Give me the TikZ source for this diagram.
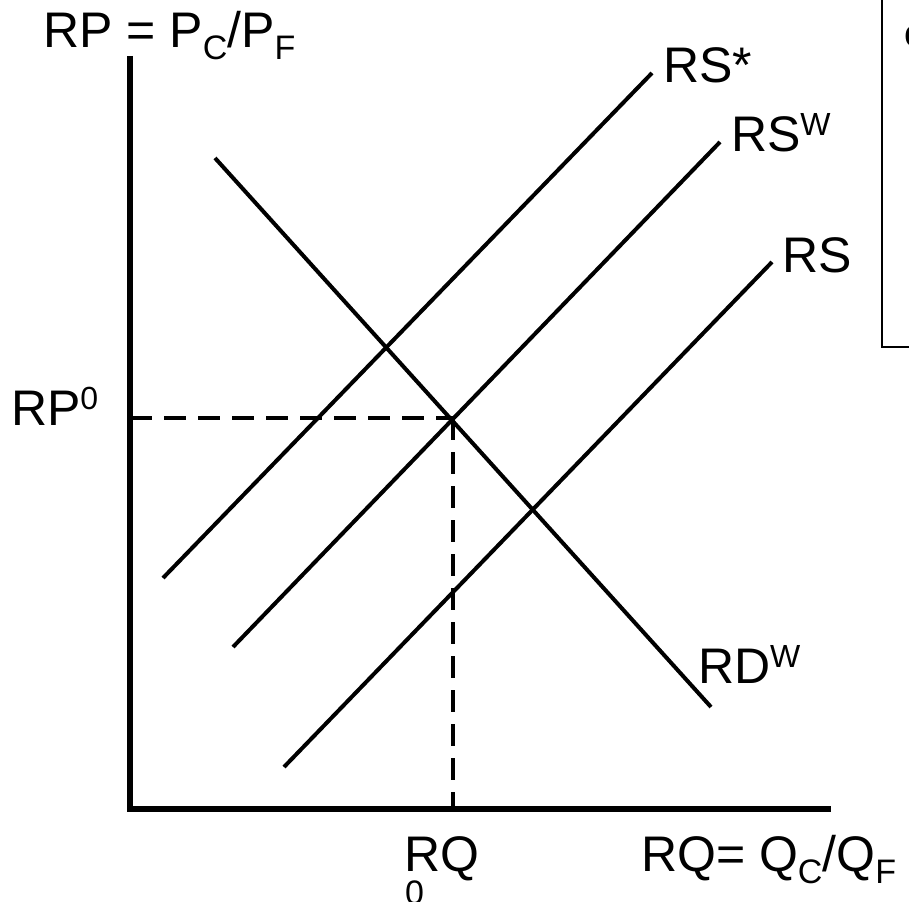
\documentclass[tikz,border=0pt]{standalone}
\usepackage{fontspec}
\setmainfont{Liberation Sans}
\newcommand\mysub[1]{\raisebox{-12pt}{\fontsize{34}{40}\selectfont #1}}
\newcommand\mysup[1]{\raisebox{16pt}{\fontsize{32}{38}\selectfont #1}}
\tikzset{
  curve/.style={line width=4pt, line cap=butt},
  axisline/.style={line width=5.5pt},
  dashline/.style={line width=4pt, dash pattern=on 22pt off 12pt},
  lbl/.style={anchor=base west, inner sep=0pt, outer sep=0pt, font=\fontsize{50}{60}\selectfont},
  boxline/.style={line width=2pt}
}
\begin{document}
\begin{tikzpicture}[x=1pt,y=-1pt]
\clip (0,0) rectangle (909,901);
\useasboundingbox (0,0) rectangle (909,901);
% axes
\coordinate (ytop) at (130,56);
\coordinate (orig) at (130,809);
\coordinate (xend) at (831,809);
\draw[axisline] (ytop) -- (orig) -- (xend);
% equilibrium
\coordinate (rp0) at (130,418);
\coordinate (eq) at (453,418);
\coordinate (rq0) at (453,809);
\draw[dashline] (rp0) -- (eq);
\draw[dashline] (eq) -- (rq0);
% curves
\coordinate (rdA) at (215,158);
\coordinate (rdB) at (711,707);
\coordinate (rssA) at (163,578);
\coordinate (rssB) at (652,73);
\coordinate (rswA) at (233,647);
\coordinate (rswB) at (720,142);
\coordinate (rsA) at (284,767);
\coordinate (rsB) at (772,262);
\draw[curve] (rdA) -- (rdB);
\draw[curve] (rssA) -- (rssB);
\draw[curve] (rswA) -- (rswB);
\draw[curve] (rsA) -- (rsB);
% labels
\node[lbl] (ylab) at (43,48) {RP = P\mysub{C}/P\mysub{F}};
\node[lbl] (rsslab) at (663,83) {RS*};
\node[lbl] (rswlab) at (731,152) {RS\mysup{W}};
\node[lbl] (rslab) at (782,272) {RS};
\node[lbl] (rdlab) at (698,683) {RD\mysup{W}};
\node[lbl] (rp0lab) at (11,425) {RP\mysup{0}};
\node[lbl] (rqlab) at (404,871) {RQ};
\node[lbl, font=\fontsize{34}{40}\selectfont] (rqsub) at (405,904) {0};
\node[lbl] (xlab) at (641,871) {RQ= Q\mysub{C}/Q\mysub{F}};
% clipped box at right
\coordinate (boxTL) at (882,-5);
\coordinate (boxBL) at (882,347);
\coordinate (boxBR) at (915,347);
\draw[boxline] (boxTL) -- (boxBL) -- (boxBR);
\node[lbl, font=\fontsize{38}{44}\selectfont] (boxtxt) at (904,47) {c};
\end{tikzpicture}
\end{document}
